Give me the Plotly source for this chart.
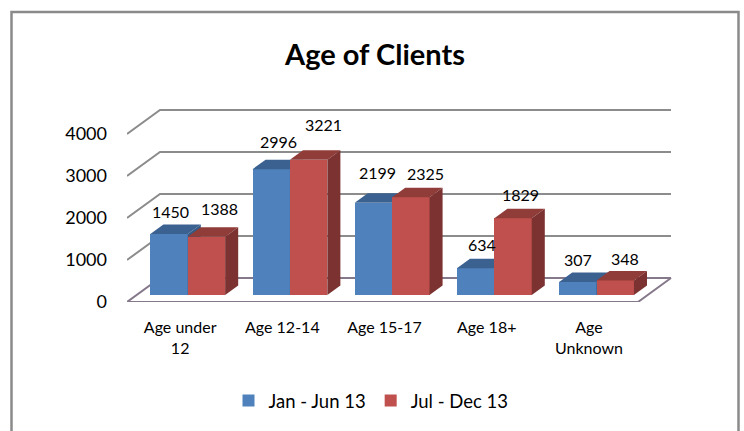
import plotly.graph_objects as go

categories = ["Age under<br>12", "Age 12-14", "Age 15-17", "Age 18+", "Age<br>Unknown"]
jan_jun = [1450, 2996, 2199, 634, 307]
jul_dec = [1388, 3221, 2325, 1829, 348]
series_names = ["Jan - Jun 13", "Jul - Dec 13"]
wall_ticks = [0, 1000, 2000, 3000, 4000]

# ---- layout / projection (one category = 102.2 px, 1000 units = 42 px)
W, H = 744, 431
L, R, T, B = 127, 45, 100, 129
PXX = 102.2
PXY = 0.042
plot_w, plot_h = W - L - R, H - T - B
x_max = plot_w / PXX
y_max = plot_h / PXY
FONT = "Lato"
DEPTH_X = 33 / PXX        # full floor depth in x units
DEPTH_Y = 24 / PXY        # full floor depth in y units
BAR_FRONT = 7 / 24        # bar front position along the depth
BAR_DEPTH = 9.5 / 24      # bar depth along the depth
BAR_W = 37.4 / PXX
BLUE, BLUE_TOP, BLUE_SIDE = "#4F81BD", "#3B6190", "#355A85"
RED, RED_TOP, RED_SIDE = "#C0504D", "#903C39", "#7B3231"
GRID = "#8C8C8C"
FLOOR = "#85788A"

label_dx = [[1, 13], [7, 15], [4, 15], [6, 7], [0, 10]]
label_dy = [[23, 28], [28, 35], [30, 24], [24, 24], [23, 22]]

fig = go.Figure()

# back wall + side wall lines
for v in wall_ticks:
    col = FLOOR if v == 0 else GRID
    fig.add_trace(go.Scatter(
        x=[0, DEPTH_X, 5 + DEPTH_X], y=[v, v + DEPTH_Y, v + DEPTH_Y],
        mode="lines", line=dict(color=col, width=2), showlegend=False, hoverinfo="skip",
        xaxis="x", yaxis="y"))
# floor outline
fig.add_trace(go.Scatter(
    x=[0, 5, 5 + DEPTH_X], y=[0, 0, DEPTH_Y],
    mode="lines", line=dict(color=FLOOR, width=2), showlegend=False, hoverinfo="skip",
    xaxis="x", yaxis="y"))


def add_series(values, name, offset, front, top, side, xa, ya):
    fx = BAR_FRONT * DEPTH_X
    fy = BAR_FRONT * DEPTH_Y
    dx = BAR_DEPTH * DEPTH_X
    dy = BAR_DEPTH * DEPTH_Y
    xs = [i + 0.5 + fx + offset * BAR_W for i in range(len(values))]
    fig.add_trace(go.Bar(
        x=xs, y=values, base=[fy] * len(values), width=BAR_W, name=name,
        marker=dict(color=front, line=dict(width=0)), xaxis=xa, yaxis=ya))
    for xc, v in zip(xs, values):
        x0, x1 = xc - BAR_W / 2, xc + BAR_W / 2
        ytop = v + fy
        fig.add_trace(go.Scatter(
            x=[x0, x1, x1 + dx, x0 + dx, x0], y=[ytop, ytop, ytop + dy, ytop + dy, ytop],
            mode="lines", fill="toself", fillcolor=top, line=dict(width=0, color=top),
            showlegend=False, hoverinfo="skip", xaxis=xa, yaxis=ya))
        fig.add_trace(go.Scatter(
            x=[x1, x1 + dx, x1 + dx, x1, x1], y=[fy, fy + dy, ytop + dy, ytop, fy],
            mode="lines", fill="toself", fillcolor=side, line=dict(width=0, color=side),
            showlegend=False, hoverinfo="skip", xaxis=xa, yaxis=ya))
    return xs


xs_a = add_series(jan_jun, series_names[0], -0.5, BLUE, BLUE_TOP, BLUE_SIDE, "x2", "y2")
xs_b = add_series(jul_dec, series_names[1], 0.5, RED, RED_TOP, RED_SIDE, "x3", "y3")

annotations = []
fy0 = BAR_FRONT * DEPTH_Y
for s, (xs, vals) in enumerate([(xs_a, jan_jun), (xs_b, jul_dec)]):
    for i, (xc, v) in enumerate(zip(xs, vals)):
        annotations.append(dict(
            x=xc, y=v + fy0, xref="x3", yref="y3", text=str(v), showarrow=False,
            xshift=label_dx[i][s], yshift=label_dy[i][s], yanchor="middle",
            font=dict(family=FONT, size=16, color="#000000")))


def px(x):
    return (x - L) / plot_w


def py(y):
    return (H - B - y) / plot_h


border = dict(type="path", xref="paper", yref="paper",
              path=f"M {px(11.5)} {py(431)} L {px(11.5)} {py(12)} L {px(738.5)} {py(12)} L {px(738.5)} {py(431)}",
              line=dict(color="#8A8A8A", width=2.5), layer="above")

axis_common = dict(range=[0, x_max], showgrid=False, zeroline=False, showline=False)
y_common = dict(range=[0, y_max], showgrid=False, zeroline=False, showline=False)

fig.update_layout(
    width=W, height=H, autosize=False,
    margin=dict(l=L, r=R, t=T, b=B),
    paper_bgcolor="white", plot_bgcolor="white",
    barmode="overlay", bargap=0,
    title=dict(text="<b>Age of Clients</b>", x=375 / W, xanchor="center", y=1 - 55 / H,
               yanchor="middle", font=dict(family=FONT, size=29, color="#000000")),
    xaxis=dict(**axis_common, tickmode="array",
               tickvals=[i + 0.52 for i in range(5)], ticktext=categories, ticks="",
               tickangle=0, tickfont=dict(family=FONT, size=16, color="#000000"),
               ticklabelstandoff=14),
    yaxis=dict(**y_common, tickmode="array", tickvals=wall_ticks,
               ticktext=[str(v) for v in wall_ticks], ticks="",
               tickfont=dict(family=FONT, size=18, color="#000000"),
               ticklabelstandoff=19),
    xaxis2=dict(**axis_common, overlaying="x", visible=False),
    yaxis2=dict(**y_common, overlaying="y", visible=False),
    xaxis3=dict(**axis_common, overlaying="x", visible=False),
    yaxis3=dict(**y_common, overlaying="y", visible=False),
    legend=dict(orientation="h", x=371 / W, xref="container", xanchor="center",
                y=1 - 401 / H, yref="container", yanchor="middle",
                font=dict(family=FONT, size=18.5, color="#000000"),
                itemwidth=30, traceorder="normal", bgcolor="rgba(0,0,0,0)"),
    annotations=annotations,
    shapes=[border],
)

fig.write_html("out.html", config={"displayModeBar": False},
               post_script="document.body.style.margin='0';document.documentElement.style.overflow='hidden';window.dispatchEvent(new Event('resize'));")
